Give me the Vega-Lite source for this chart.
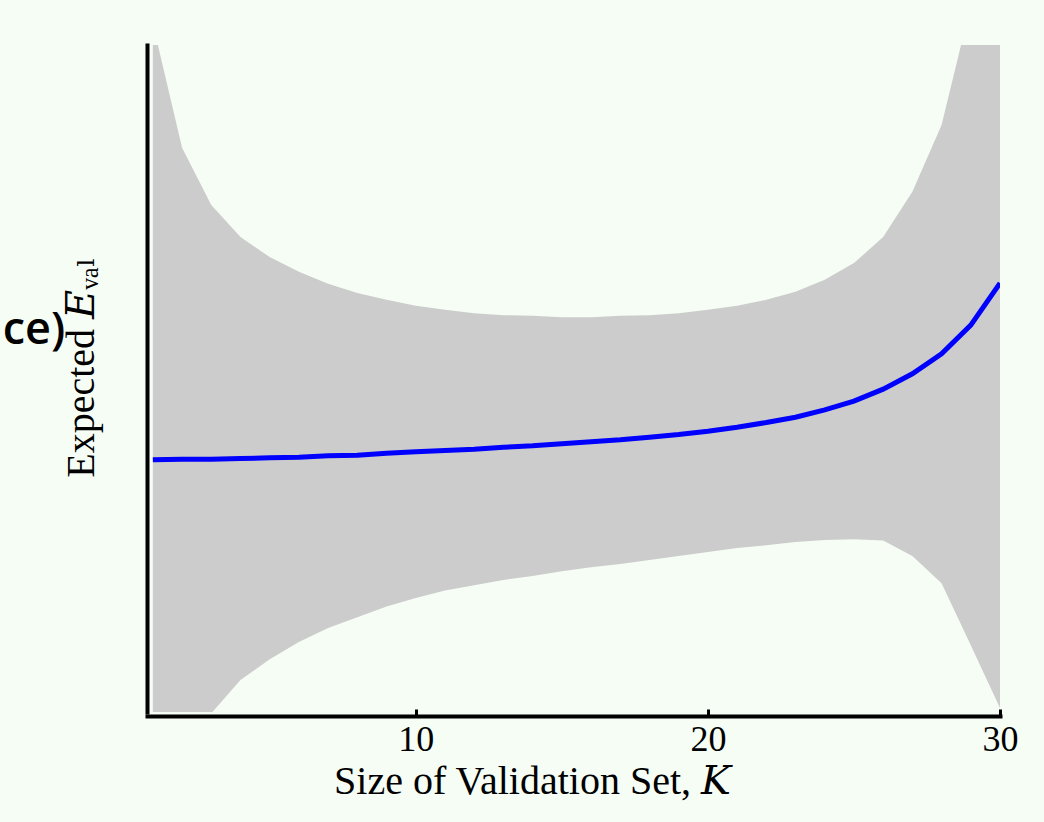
{
  "$schema": "https://vega.github.io/schema/vega-lite/v6.json",
  "autosize": "none",
  "width": 853,
  "height": 667,
  "padding": {"left": 147, "top": 45, "right": 44, "bottom": 110},
  "background": "#f5fdf5",
  "config": {
    "view": {"stroke": null},
    "font": "Liberation Serif"
  },
  "datasets": {
    "curve": [
      {"K": 1, "mean": 0.378, "lower": -0.276, "upper": 1.032},
      {"K": 2, "mean": 0.379, "lower": -0.088, "upper": 0.846},
      {"K": 3, "mean": 0.379, "lower": -0.002, "upper": 0.760},
      {"K": 4, "mean": 0.380, "lower": 0.048, "upper": 0.712},
      {"K": 5, "mean": 0.381, "lower": 0.079, "upper": 0.682},
      {"K": 6, "mean": 0.382, "lower": 0.105, "upper": 0.660},
      {"K": 7, "mean": 0.384, "lower": 0.126, "upper": 0.642},
      {"K": 8, "mean": 0.385, "lower": 0.142, "upper": 0.628},
      {"K": 9, "mean": 0.388, "lower": 0.158, "upper": 0.618},
      {"K": 10, "mean": 0.390, "lower": 0.171, "upper": 0.609},
      {"K": 11, "mean": 0.392, "lower": 0.182, "upper": 0.603},
      {"K": 12, "mean": 0.394, "lower": 0.190, "upper": 0.598},
      {"K": 13, "mean": 0.397, "lower": 0.198, "upper": 0.595},
      {"K": 14, "mean": 0.399, "lower": 0.204, "upper": 0.594},
      {"K": 15, "mean": 0.402, "lower": 0.211, "upper": 0.592},
      {"K": 16, "mean": 0.405, "lower": 0.217, "upper": 0.592},
      {"K": 17, "mean": 0.408, "lower": 0.222, "upper": 0.594},
      {"K": 18, "mean": 0.412, "lower": 0.228, "upper": 0.595},
      {"K": 19, "mean": 0.416, "lower": 0.234, "upper": 0.598},
      {"K": 20, "mean": 0.421, "lower": 0.240, "upper": 0.603},
      {"K": 21, "mean": 0.427, "lower": 0.246, "upper": 0.609},
      {"K": 22, "mean": 0.434, "lower": 0.250, "upper": 0.618},
      {"K": 23, "mean": 0.442, "lower": 0.255, "upper": 0.630},
      {"K": 24, "mean": 0.453, "lower": 0.258, "upper": 0.648},
      {"K": 25, "mean": 0.466, "lower": 0.259, "upper": 0.673},
      {"K": 26, "mean": 0.484, "lower": 0.257, "upper": 0.712},
      {"K": 27, "mean": 0.507, "lower": 0.234, "upper": 0.780},
      {"K": 28, "mean": 0.537, "lower": 0.193, "upper": 0.880},
      {"K": 29, "mean": 0.580, "lower": 0.100, "upper": 1.060},
      {"K": 30, "mean": 0.643, "lower": 0.006, "upper": 1.280}
    ],
    "note": [
      {"K": -2.0, "value": 0.552, "label": "ce)"}
    ]
  },
  "layer": [
    {
      "data": {"name": "curve"},
      "mark": {"type": "area", "color": "#cccccc", "clip": true},
      "encoding": {
        "x": {
          "field": "K", "type": "quantitative",
          "scale": {"domain": [0.8, 30], "nice": false, "zero": false},
          "axis": {
            "values": [10, 20, 30],
            "grid": false,
            "offset": 4,
            "domainColor": "black",
            "domainWidth": 4,
            "domainCap": "square",
            "tickColor": "black",
            "tickWidth": 3,
            "tickSize": -7,
            "labelFont": "Liberation Serif",
            "labelFontSize": 36,
            "labelColor": "black",
            "labelPadding": 13,
            "labelFlush": false,
            "title": "Size of Validation Set, 𝐾",
            "titleFont": "Liberation Serif, DejaVu Serif",
            "titleFontSize": 40,
            "titleFontWeight": "normal",
            "titleColor": "black",
            "titleBaseline": "alphabetic",
            "titleAnchor": "middle",
            "titleX": 385,
            "titleY": 77
          }
        },
        "y": {
          "field": "lower", "type": "quantitative",
          "scale": {"domain": [0, 1], "nice": false, "zero": false},
          "axis": {
            "grid": false,
            "ticks": false,
            "labels": false,
            "domainColor": "black",
            "domainWidth": 4,
            "domainCap": "square",
            "title": "Expected 𝐸ᵥₐₗ",
            "titleFont": "Liberation Serif, DejaVu Serif",
            "titleFontSize": 40,
            "titleFontWeight": "normal",
            "titleColor": "black",
            "titleAngle": 270,
            "titleBaseline": "middle",
            "titleAnchor": "middle",
            "titleX": -66,
            "titleY": 322
          }
        },
        "y2": {"field": "upper"}
      }
    },
    {
      "data": {"name": "curve"},
      "mark": {"type": "line", "color": "#0000ff", "strokeWidth": 5, "clip": true},
      "encoding": {
        "x": {"field": "K", "type": "quantitative"},
        "y": {"field": "mean", "type": "quantitative"}
      }
    },
    {
      "data": {"name": "note"},
      "mark": {"type": "text", "align": "right", "baseline": "alphabetic", "font": "Open Sans", "fontWeight": 600, "fontSize": 45, "color": "black"},
      "encoding": {
        "x": {"field": "K", "type": "quantitative"},
        "y": {"field": "value", "type": "quantitative"},
        "text": {"field": "label"}
      }
    }
  ]
}
